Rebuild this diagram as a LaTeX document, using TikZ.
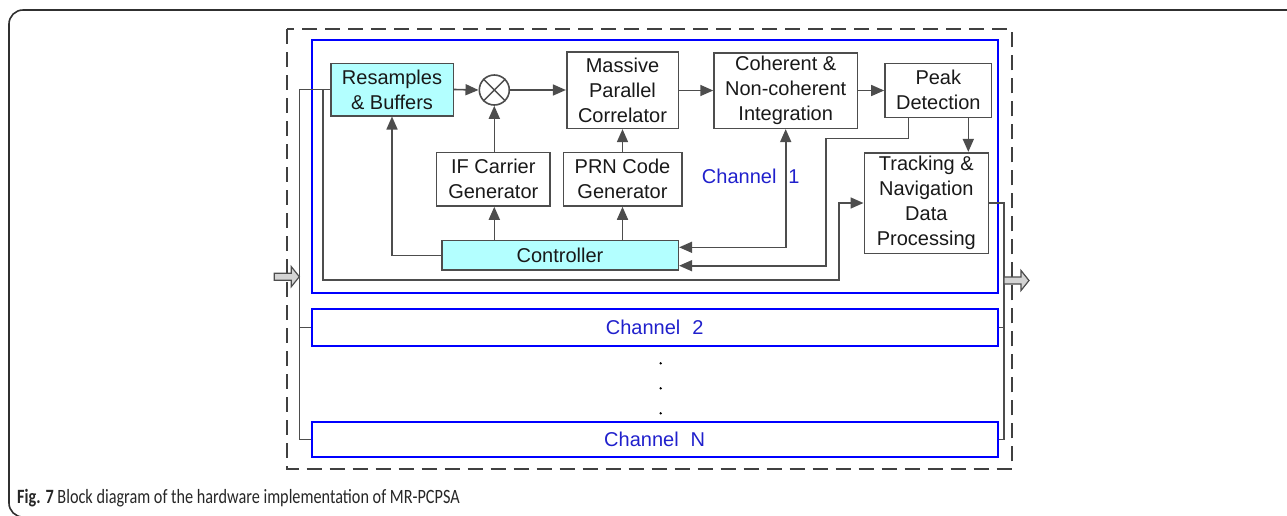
\documentclass[tikz,border=0pt]{standalone}
\usepackage{fontspec}
\setmainfont{Liberation Sans}
\newfontfamily\capfont[FakeStretch=0.8]{Carlito}
\usetikzlibrary{arrows.meta}

\definecolor{linegray}{HTML}{4D4D4D}
\definecolor{dashgray}{HTML}{404040}
\definecolor{boxcyan}{HTML}{B3FFFF}
\definecolor{chanblue}{HTML}{0000FF}
\definecolor{labelblue}{HTML}{2020CC}
\definecolor{fatfill}{HTML}{D4D4D4}
\definecolor{framegray}{HTML}{303030}

\tikzset{
  blk/.style={draw=linegray, line width=1.6pt, inner sep=0pt, align=center,
    font=\fontsize{20}{25}\selectfont, text=black!90},
  cyanblk/.style={blk, fill=boxcyan},
  chanbox/.style={draw=chanblue, line width=1.8pt, inner sep=0pt,
    minimum width=686pt, font=\fontsize{20}{24}\selectfont, text=labelblue},
  wire/.style={draw=linegray, line width=1.6pt},
  arr/.style={wire, -{Triangle[length=13pt,width=11pt]}},
  arrboth/.style={wire, {Triangle[length=13pt,width=11pt]}-{Triangle[length=13pt,width=11pt]}},
  fatarrow/.pic={
    \draw[fill=fatfill, draw=linegray, line width=1.2pt]
      (-25,-3.5) -- (-8,-3.5) -- (-8,-10) -- (0,0) -- (-8,10) -- (-8,3.5)
      -- (-25,3.5) -- cycle;
  }
}

\begin{document}
\begin{tikzpicture}[x=1pt, y=-1pt]
\useasboundingbox (0,0) rectangle (1287,515);
\begin{scope}
\clip (0,0) rectangle (1287,515);
% figure frame
\draw[framegray, line width=1.6pt, rounded corners=14pt]
  (1300,10) -| (9,517) -- (60,517);
\end{scope}

% dashed enclosure of all channels
\draw[dashgray, line width=2pt, dash pattern=on 15pt off 8pt]
  (286.7,29.3) rectangle (1011.7,469.3);

% channel boxes
\node[chanbox, minimum height=253.3pt] (ch1) at (654.7,166.7) {};
\node[chanbox, minimum height=36.4pt] (ch2) at (654.7,327.5) {Channel\hspace{0.6em}2};
\node[chanbox, minimum height=34.4pt] (chN) at (654.7,439.5) {Channel\hspace{0.6em}N};
\node[font=\fontsize{20}{24}\selectfont, text=labelblue] (lab1) at (750.8,176.7) {Channel\hspace{0.6em}1};

% dots between channel 2 and channel N
\foreach \yy [count=\i] in {363.3,388.3,413.3}
  \node[circle, fill=black, inner sep=0pt, minimum size=2.6pt] (dot\i) at (660.7,\yy) {};

% blocks of channel 1
\node[cyanblk, minimum width=122.6pt, minimum height=52.4pt] (res) at (392,89.5) {Resamples\\\& Buffers};
\node[draw=linegray, line width=1.6pt, circle, minimum size=30pt, inner sep=0pt] (mix) at (494.3,90) {};
\draw[linegray, line width=1.4pt] (mix.45) -- (mix.225) (mix.135) -- (mix.315);
\node[blk, minimum width=111.6pt, minimum height=76.6pt] (mpc) at (622.5,90) {Massive\\Parallel\\Correlator};
\node[blk, minimum width=143.3pt, minimum height=75.6pt] (coh) at (785.7,90.5) {Coherent \&\\Non-coherent\\Integration};
\node[blk, minimum width=106.7pt, minimum height=54pt] (peak) at (938.3,90.3) {Peak\\Detection};
\node[blk, minimum width=124pt, minimum height=100.6pt] (trk) at (926.3,203) {Tracking \&\\Navigation\\Data\\Processing};
\node[blk, minimum width=113.3pt, minimum height=53.3pt] (ifc) at (493.3,179.3) {IF Carrier\\Generator};
\node[blk, minimum width=118.4pt, minimum height=53.3pt] (prn) at (622.5,179.3) {PRN Code\\Generator};
\node[cyanblk, minimum width=236.6pt, minimum height=29.3pt] (ctrl) at (560,255.3) {Controller};

% input distribution bus
\coordinate (busL) at (299.3,89.5);
\coordinate (tapL) at (323,89.5);
\draw[wire] (res.west) -- (busL) |- (chN.west);
\draw[wire] (busL |- ch2.west) -- (ch2.west);
\draw[arr] (tapL) |- (838.7,279.7) |- (trk.west);

% signal path
\draw[arr] (res.east) -- (mix.west);
\draw[arr] (mix.east) -- (mpc.west |- mix.east);
\draw[arr] (mpc.east |- coh.west) -- (coh.west);
\draw[arr] (coh.east) -- (peak.west |- coh.east);
\draw[arr] ([xshift=30pt]peak.south) -- ([xshift=30pt]peak.south |- trk.north);
\draw[arr] ([xshift=-30pt]peak.south) |- (825.7,138.3) |- ([yshift=-10.4pt]ctrl.east);
\draw[arrboth] (coh.south) |- ([yshift=8pt]ctrl.east);

% control paths
\draw[arr] (ctrl.north -| mix.south) -- (ifc.south -| mix.south);
\draw[arr] (ifc.north -| mix.south) -- (mix.south);
\draw[arr] (ctrl.north -| prn.south) -- (prn.south);
\draw[arr] (prn.north) -- (mpc.south);
\draw[arr] (ctrl.west) -| (res.south);

% output collection bus
\coordinate (busR) at (1004,203);
\draw[wire] (trk.east) -- (busR) |- (chN.east);
\draw[wire] (ch2.east) -- (busR |- ch2.east);

% input and output arrows
\coordinate (inTip) at (299.3,276.7);
\coordinate (outTip) at (1029,280.5);
\pic at (inTip) {fatarrow};
\pic at (outTip) {fatarrow};

% caption
\node[anchor=base west, inner sep=0pt, font=\capfont\fontsize{20.3}{24}\selectfont, text=black!85] (cap) at (17,503)
  {\textbf{Fig. 7} Block diagram of the hardware implementation of MR-PCPSA};
\end{tikzpicture}
\end{document}
